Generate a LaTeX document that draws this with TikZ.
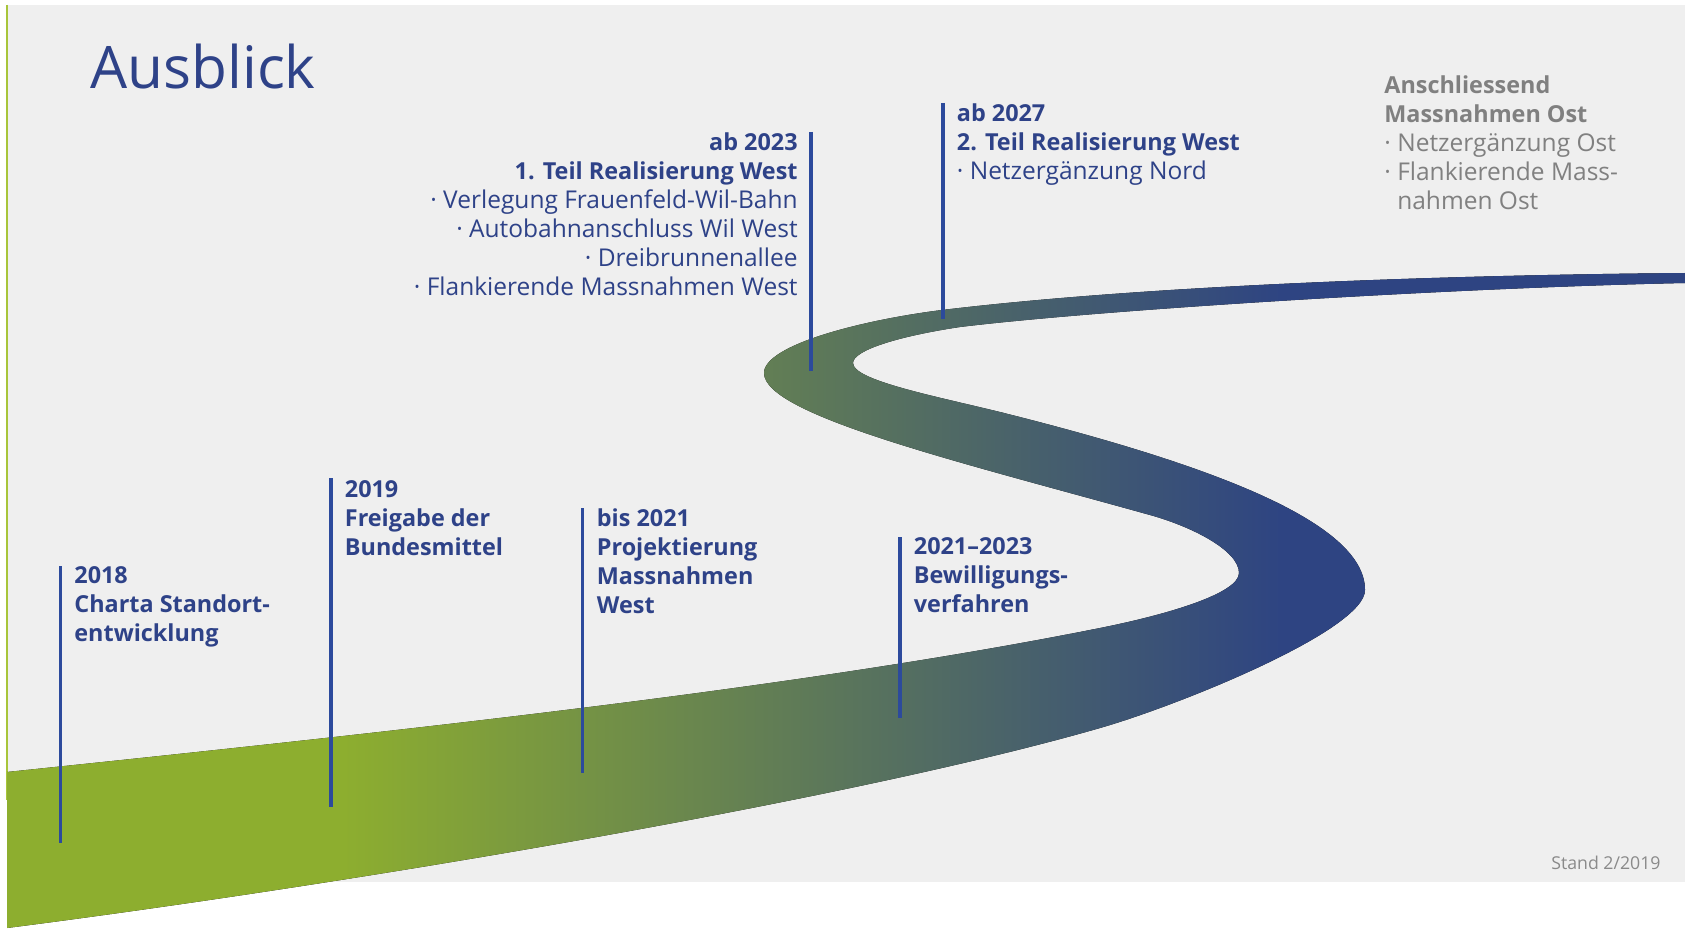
\documentclass[tikz,border=0pt]{standalone}
\usepackage{fontspec}
\setmainfont{Open Sans}[BoldFeatures={Scale=0.955}]
\usetikzlibrary{positioning}
\definecolor{bggrey}{HTML}{EFEFEF}
\definecolor{roadgreen}{HTML}{8DAE2F}
\definecolor{roadblue}{HTML}{2E4482}
\definecolor{txtblue}{HTML}{2E4288}
\definecolor{mkblue}{HTML}{2C4A9C}
\definecolor{txtgrey}{HTML}{808080}
\definecolor{standgrey}{HTML}{8A8A8A}
\definecolor{edgegreen}{HTML}{A8C53A}
\pgfdeclarehorizontalshading{roadshade}{100bp}{color(0bp)=(roadgreen); color(35bp)=(roadgreen); color(63bp)=(roadblue); color(100bp)=(roadblue)}

\begin{document}
\begin{tikzpicture}[x=0.5pt, y=-0.5pt,
  marker/.style={draw=mkblue, line width=1.75pt},
  milestone/.style={inner sep=0pt, align=left, text=txtblue,
    font={\fontsize{12.25}{14.5}\selectfont}},
  bottomstone/.style={milestone, font={\fontsize{12.25}{14.5}\selectfont\bfseries}}]
  \useasboundingbox (0,0) rectangle (1685,935);
  \fill[white] (0,0) rectangle (1685,935);
  \fill[bggrey] (8,5) rectangle (1685,882);
  \draw[edgegreen, line width=1pt] (7,5) -- (7,800);
  \fill[shading=roadshade]
    (7,772) .. controls (400,731) and (800,688) .. (1100,628)
    .. controls (1170,614) and (1239,593) .. (1239,573)
    .. controls (1239,550) and (1190,526) .. (1150,515)
    .. controls (960,462) and (764,415) .. (764,373)
    .. controls (764,345) and (862,320) .. (942,310)
    .. controls (1150,285) and (1450,275) .. (1685,273)
    -- (1685,283)
    .. controls (1450,288) and (1100,310) .. (960,327)
    .. controls (900,336) and (853,350) .. (853,363)
    .. controls (853,380) and (930,395) .. (1000,412)
    .. controls (1200,462) and (1365,520) .. (1365,590)
    .. controls (1365,630) and (1180,705) .. (1100,728)
    .. controls (850,800) and (350,884) .. (7,928)
    -- cycle;

  \node[anchor=base west, inner sep=0pt, text=txtblue,
    font={\fontsize{29.3}{35}\selectfont}] (title) at (90,89) {Ausblick};

  \coordinate (m18) at (60.5,566);
  \coordinate (m18b) at (60.5,843);
  \coordinate (m19) at (331,478);
  \coordinate (m19b) at (331,807);
  \coordinate (m21) at (582.5,508);
  \coordinate (m21b) at (582.5,773);
  \coordinate (m2123) at (900,537);
  \coordinate (m2123b) at (900,718);
  \coordinate (m23) at (811,132);
  \coordinate (m23b) at (811,371);
  \coordinate (m27) at (943,103);
  \coordinate (m27b) at (943,319);
  \draw[marker] (m18) -- (m18b);
  \draw[marker] (m19) -- (m19b);
  \draw[marker] (m21) -- (m21b);
  \draw[marker] (m2123) -- (m2123b);
  \draw[marker] (m23) -- (m23b);
  \draw[marker] (m27) -- (m27b);

  \node[bottomstone, below right=0pt and 6.75pt of m18] (t18)
    {2018\\Charta Standort-\\entwicklung};
  \node[bottomstone, below right=1pt and 6.75pt of m19] (t19)
    {2019\\Freigabe der\\Bundesmittel};
  \node[bottomstone, below right=0pt and 7pt of m21] (t21)
    {bis 2021\\Projektierung\\Massnahmen\\West};
  \node[bottomstone, below right=0pt and 6.75pt of m2123] (t2123)
    {2021--2023\\Bewilligungs-\\verfahren};
  \node[milestone, align=right, below left=0pt and 6.5pt of m23] (t23)
    {\textbf{ab 2023}\\\textbf{1. Teil Realisierung West}\\· Verlegung Frauenfeld-Wil-Bahn\\· Autobahnanschluss Wil West\\· Dreibrunnenallee\\· Flankierende Massnahmen West};
  \node[milestone, below right=0pt and 6.75pt of m27] (t27)
    {\textbf{ab 2027}\\\textbf{2. Teil Realisierung West}\\· Netzergänzung Nord};
  \node[milestone, text=txtgrey, anchor=north west] (ost) at (1384,75)
    {\textbf{Anschliessend}\\\textbf{Massnahmen Ost}\\· Netzergänzung Ost\\· Flankierende Mass-\\\phantom{·\ }nahmen Ost};

  \node[anchor=base east, inner sep=0pt, text=standgrey,
    font={\fontsize{8.86}{10}\selectfont}] (stand) at (1661,869) {Stand 2/2019};
\end{tikzpicture}
\end{document}
